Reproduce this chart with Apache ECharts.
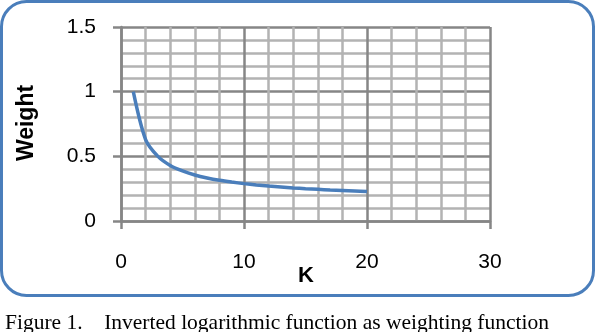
<!DOCTYPE html>
<html><head><meta charset="utf-8">
<script src="https://cdn.jsdelivr.net/npm/echarts@6/dist/echarts.min.js"></script>
<style>html,body{margin:0;padding:0;background:#fff}#c{width:596px;height:332px}</style>
</head><body><div id="c"></div>
<script>
const kValues = [1,2,3,4,5,6,7,8,9,10,11,12,13,14,15,16,17,18,19,20];
const weightValues = [1.0,0.63,0.5,0.43,0.387,0.356,0.333,0.315,0.301,0.289,0.279,0.27,0.263,0.256,0.25,0.245,0.24,0.236,0.232,0.228];
const xTicks = [0,10,20,30];
const yTicks = [0,0.5,1,1.5];
const xTitle = 'K';
const yTitle = 'Weight';
const caption = 'Figure 1.\u00a0\u00a0\u00a0\u00a0Inverted logarithmic function as weighting function';

const major = '#868686', minor = '#b3b3b3';
const chart = echarts.init(document.getElementById('c'), null, {renderer:'canvas'});
chart.setOption({
  animation:false,
  grid:{left:121,right:106,top:27,bottom:111},
  xAxis:{type:'value',min:xTicks[0],max:xTicks[xTicks.length-1],interval:10,
    axisLine:{show:true,onZero:false,lineStyle:{color:major,width:2.5}},
    axisTick:{show:true,length:8,lineStyle:{color:major,width:2.5}},
    axisLabel:{margin:31,fontSize:21,fontFamily:'Liberation Sans',color:'#000',formatter:v=>String(v)},
    splitLine:{show:true,lineStyle:{color:major,width:2.5}},
    minorTick:{show:false,splitNumber:5},
    minorSplitLine:{show:true,lineStyle:{color:minor,width:2.5}}
  },
  yAxis:{type:'value',min:yTicks[0],max:yTicks[yTicks.length-1],interval:0.5,
    axisLine:{show:true,lineStyle:{color:major,width:2.5}},
    axisTick:{show:true,length:8,lineStyle:{color:major,width:2.5}},
    axisLabel:{margin:25,fontSize:21,fontFamily:'Liberation Sans',color:'#000',formatter:v=>String(v)},
    splitLine:{show:true,lineStyle:{color:major,width:2.5}},
    minorTick:{show:false,splitNumber:5},
    minorSplitLine:{show:true,lineStyle:{color:minor,width:2.5}}
  },
  series:[{type:'line',data:kValues.map((k,i)=>[k,weightValues[i]]),smooth:0.3,showSymbol:false,
    lineStyle:{color:'#4a7ebb',width:3.5},z:5}],
  graphic:[
    {type:'rect',shape:{x:1.5,y:1.5,width:592,height:294,r:25},style:{fill:'none',stroke:'#4a7ebb',lineWidth:3},z:10},
    {type:'text',x:27,y:123,rotation:Math.PI/2,style:{text:yTitle,font:'bold 23px "Liberation Sans"',fill:'#000',align:'center',verticalAlign:'middle'}},
    {type:'text',x:306,y:276,style:{text:xTitle,font:'bold 22px "Liberation Sans"',fill:'#000',align:'center',verticalAlign:'middle'}},
    {type:'text',x:5,y:312,style:{text:caption,font:'21.5px "Liberation Serif"',fill:'#000',align:'left',verticalAlign:'top'}}
  ]
});
</script></body></html>
